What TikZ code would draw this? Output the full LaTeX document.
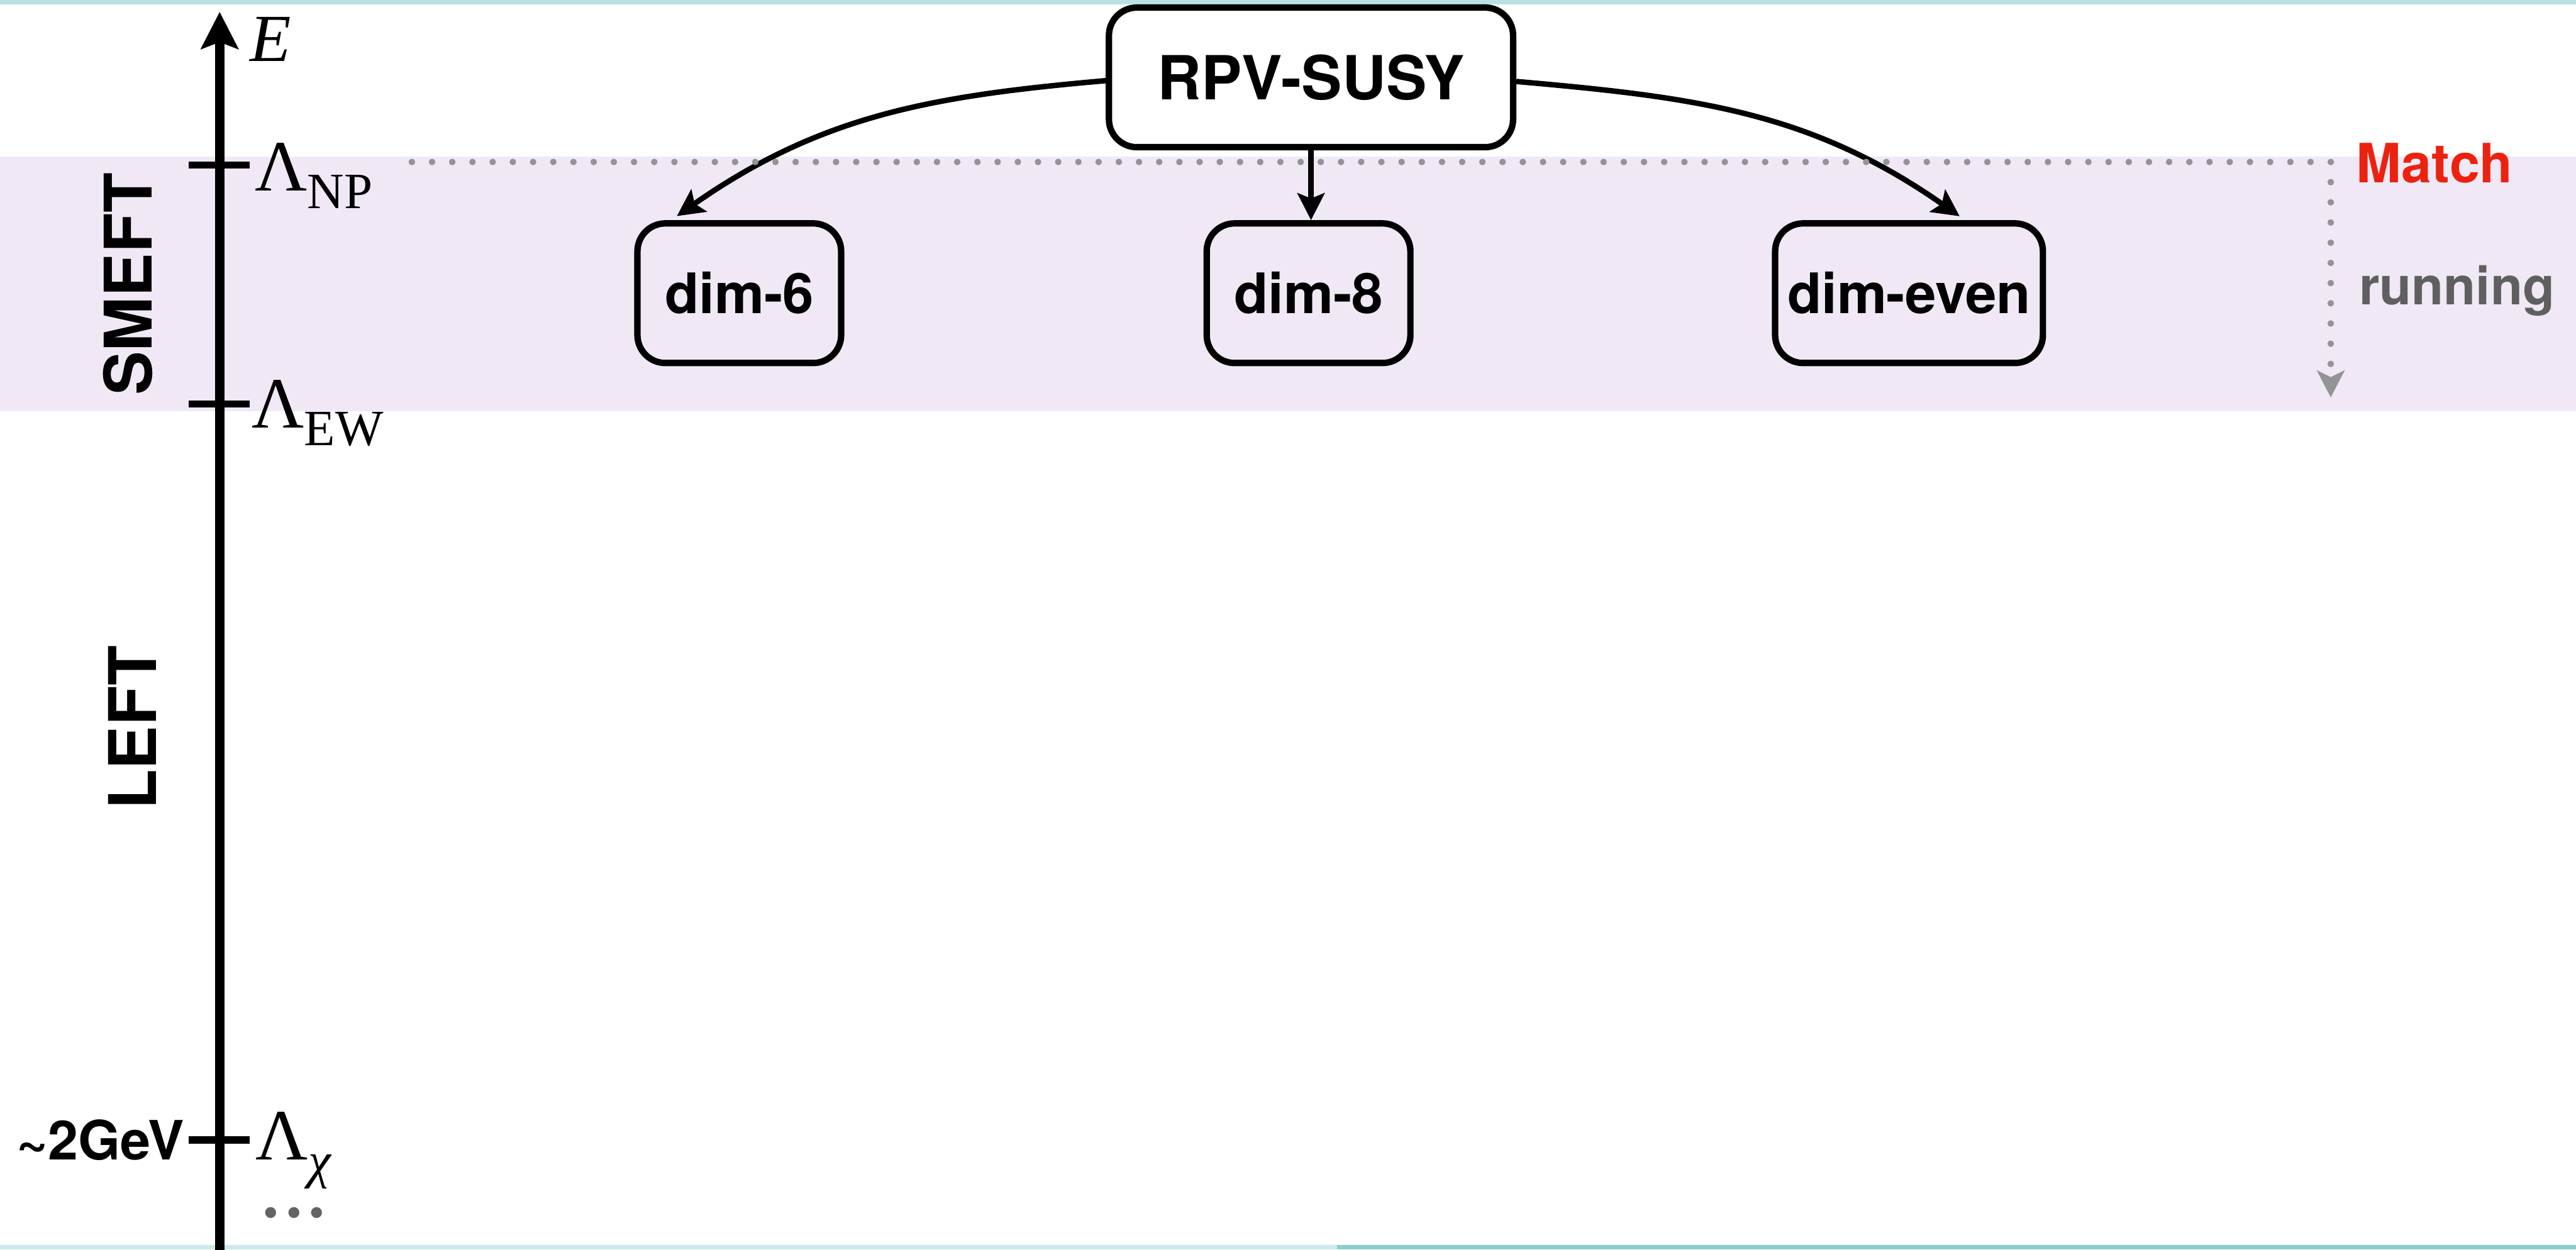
\documentclass[tikz,border=0pt]{standalone}
\usepackage{fontspec}
\newfontfamily\hv{TeX Gyre Heros}
\newfontfamily\tms{Liberation Serif}
\usetikzlibrary{arrows.meta}

\definecolor{bandcol}{RGB}{240,233,245}
\definecolor{topbar}{RGB}{187,225,225}
\definecolor{barlight}{RGB}{205,233,233}
\definecolor{bardark}{RGB}{139,205,205}
\definecolor{matchred}{RGB}{236,34,17}
\definecolor{rungrey}{RGB}{95,95,95}
\definecolor{dotgrey}{RGB}{148,148,148}
\definecolor{ellgrey}{RGB}{100,100,100}

\newcommand\setfs[1]{\fontsize{#1}{#1}\selectfont}
\newcommand\lsub[1]{\raisebox{-11pt}{\setfs{31}#1}}

\begin{document}
\begin{tikzpicture}[x=1pt,y=1pt,
  box/.style={draw, line width=3.9pt, rounded corners=17pt, inner sep=0pt,
    minimum height=85pt, font=\hv\bfseries\setfs{34}},
  flow/.style={line width=3.3pt, -{Stealth[length=16.4pt,width=16.4pt,inset=3.2pt]}},
  tickmark/.style={line width=4.3pt},
  lam/.style={anchor=base west, inner sep=0pt, font=\tms\setfs{44}},
  side/.style={rotate=90, inner sep=0pt, font=\hv\bfseries\setfs{40}},
  note/.style={anchor=base, inner sep=0pt},
]
\useasboundingbox (0,0) rectangle (1568,-760.8);

% SMEFT band and frame bars
\fill[bandcol] (0,-95.5) rectangle (1568,-250.5);
\fill[topbar] (0,0) rectangle (1568,-2.7);
\fill[barlight] (0,-758) rectangle (814,-760.8);
\fill[bardark] (814,-758) rectangle (1568,-760.8);

% energy axis
\coordinate (axbot) at (133.7,-762);
\coordinate (axtop) at (133.7,-7.2);
\draw[line width=5.7pt, -{Stealth[length=22.5pt,width=22.5pt,inset=4.1pt]}] (axbot) -- (axtop);

% scale ticks
\coordinate (npL) at (115,-100.4);  \coordinate (npR) at (152,-100.4);
\coordinate (ewL) at (115,-246);    \coordinate (ewR) at (152,-246);
\coordinate (chL) at (115,-694);    \coordinate (chR) at (152,-694);
\draw[tickmark] (npL) -- (npR);
\draw[tickmark] (ewL) -- (ewR);
\draw[tickmark] (chL) -- (chR);

% axis labels
\node[lam, font=\tms\itshape\setfs{41}] (elab) at (152,-37.4) {E};
\node[lam] (lnp) at (155,-116) {Λ\lsub{NP}};
\node[lam] (lew) at (153,-260.4) {Λ\lsub{EW}};
\node[lam] (lchi) at (155.5,-706) {Λ\lsub{\itshape χ}};
\node[note, text=ellgrey, font=\tms\setfs{56}] (ell) at (179,-741) {...};

\node[side] (smeft) at (77.8,-173) {SMEFT};
\node[side] (left) at (80.5,-443) {LEFT};
\node[anchor=base east, inner sep=0pt, font=\hv\bfseries\setfs{33}] (gev) at (112.5,-706) {\textasciitilde 2GeV};

% theory boxes
\node[box, minimum width=246pt, font=\hv\bfseries\setfs{37}] (rpv) at (798,-47.1) {RPV-SUSY};
\node[box, minimum width=124pt] (d6) at (450,-178.5) {dim-6};
\node[box, minimum width=124pt] (d8) at (796.5,-178.5) {dim-8};
\node[box, minimum width=163pt] (deven) at (1162,-178.5) {dim-even};

% matching arrows
\draw[flow] ([yshift=-2pt]rpv.west) to[out=185,in=35] ([xshift=-38pt,yshift=2.5pt]d6.north);
\draw[flow] (rpv.south) -- (rpv.south |- d8.north);
\draw[flow] ([yshift=-2.5pt]rpv.east) to[out=-5,in=145] ([xshift=30.8pt,yshift=2.4pt]deven.north);

% matching scale and running
\coordinate (mstart) at (250.7,-98.6);
\coordinate (mcorner) at (1418.7,-98.6);
\coordinate (mend) at (1418.7,-242);
\draw[dotgrey, line width=4pt, line cap=round, dash pattern=on 0pt off 12.2947pt,
  -{Stealth[length=16.4pt,width=16.7pt,inset=4pt]}] (mstart) -- (mcorner) -- (mend);

\node[note, text=matchred, font=\hv\bfseries\setfs{33}] (match) at (1481.9,-111.1) {Match};
\node[note, text=rungrey, font=\hv\bfseries\setfs{32}] (run) at (1495.5,-185.5) {running};
\end{tikzpicture}
\end{document}
